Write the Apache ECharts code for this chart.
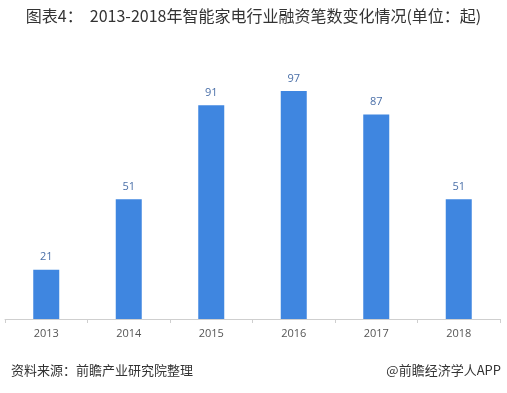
<!DOCTYPE html>
<html><head><meta charset="utf-8">
<script src="https://cdn.jsdelivr.net/npm/echarts@6/dist/echarts.min.js"></script>
<style>html,body{margin:0;padding:0;background:#fff}#c{width:507px;height:393px}</style>
</head><body><div id="c"></div>
<script>
const categories = ['2013','2014','2015','2016','2017','2018'];
const values = [21, 51, 91, 97, 87, 51];
const titleText = '图表4：  2013-2018年智能家电行业融资笔数变化情况(单位：起)';
const sourceText = '资料来源：前瞻产业研究院整理';
const brandText = '@前瞻经济学人APP';

const chart = echarts.init(document.getElementById('c'), null, {renderer:'canvas'});
chart.setOption({
  animation:false,
  backgroundColor:'#fff',
  title:[
    {text:titleText, left:'center', top:3, textStyle:{fontSize:16, fontWeight:'normal', color:'#333', fontFamily:'"Noto Sans CJK SC", sans-serif'}},
    {text:sourceText, left:6, top:359, textStyle:{fontSize:13, fontWeight:'normal', color:'#333', fontFamily:'"Noto Sans CJK SC", sans-serif'}},
    {text:brandText, right:1, top:359, textStyle:{fontSize:13, fontWeight:'normal', color:'#333', fontFamily:'"Noto Sans CJK SC", sans-serif'}}
  ],
  grid:{left:5, right:7, top:84, bottom:74, containLabel:false},
  xAxis:{type:'category', data:categories,
    axisLine:{lineStyle:{color:'#cfcfcf'}},
    axisTick:{show:true, length:4, lineStyle:{color:'#cfcfcf'}},
    axisLabel:{color:'#555', fontSize:11, margin:9, fontFamily:'"Open Sans", sans-serif'}},
  yAxis:{type:'value', min:0, max:100, show:false, splitLine:{show:false}},
  series:[{type:'bar', data:values, barWidth:26,
    itemStyle:{color:'#3f86e0'},
    label:{show:true, position:'top', distance:7, color:'#4a6fa8', fontSize:11, fontFamily:'"Open Sans", sans-serif'}}]
});
</script></body></html>
